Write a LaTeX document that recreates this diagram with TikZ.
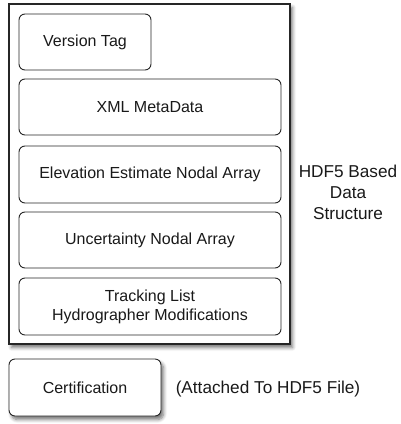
\documentclass[tikz,border=0pt]{standalone}
\usepackage{fontspec}
\setmainfont{Liberation Sans}
\usetikzlibrary{shadows.blur}
\begin{document}
\begin{tikzpicture}[x=1pt,y=-1pt,
  blk/.style={draw=black!85, line width=0.9pt, rounded corners=6pt, fill=white,
    align=center, inner sep=0pt, font=\fontsize{16}{19}\selectfont, text=black!90},
  shadowed/.style={blur shadow={shadow xshift=2.5pt, shadow yshift=-3.5pt, shadow blur radius=3.5pt, shadow blur steps=6, shadow opacity=55}},
  lbl/.style={align=center, inner sep=0pt, font=\fontsize{17.2}{21}\selectfont, text=black!90}]
\useasboundingbox (0,0) rectangle (400,424);
\node[draw=black!85, line width=1.1pt, fill=white, shadowed, minimum width=281pt, minimum height=340pt, inner sep=0pt] (outer) at (149.5,174) {};
\node[blk, minimum width=132pt, minimum height=56pt] (ver) at (85,42) {Version Tag};
\node[blk, minimum width=262pt, minimum height=56pt] (xml) at (150,107) {XML MetaData};
\node[blk, minimum width=262pt, minimum height=57pt] (elev) at (150,174.5) {Elevation Estimate Nodal Array};
\node[blk, minimum width=262pt, minimum height=56pt] (unc) at (150,240) {Uncertainty Nodal Array};
\node[blk, minimum width=262pt, minimum height=57pt] (trk) at (150,306.5) {Tracking List\\Hydrographer Modifications};
\node[blk, shadowed, minimum width=152pt, minimum height=57pt] (cert) at (85,387.5) {Certification};
\node[lbl] (hdf) at (348,192.5) {HDF5 Based\\Data\\Structure};
\node[lbl] (att) at (268,389) {(Attached To HDF5 File)};
\end{tikzpicture}
\end{document}
